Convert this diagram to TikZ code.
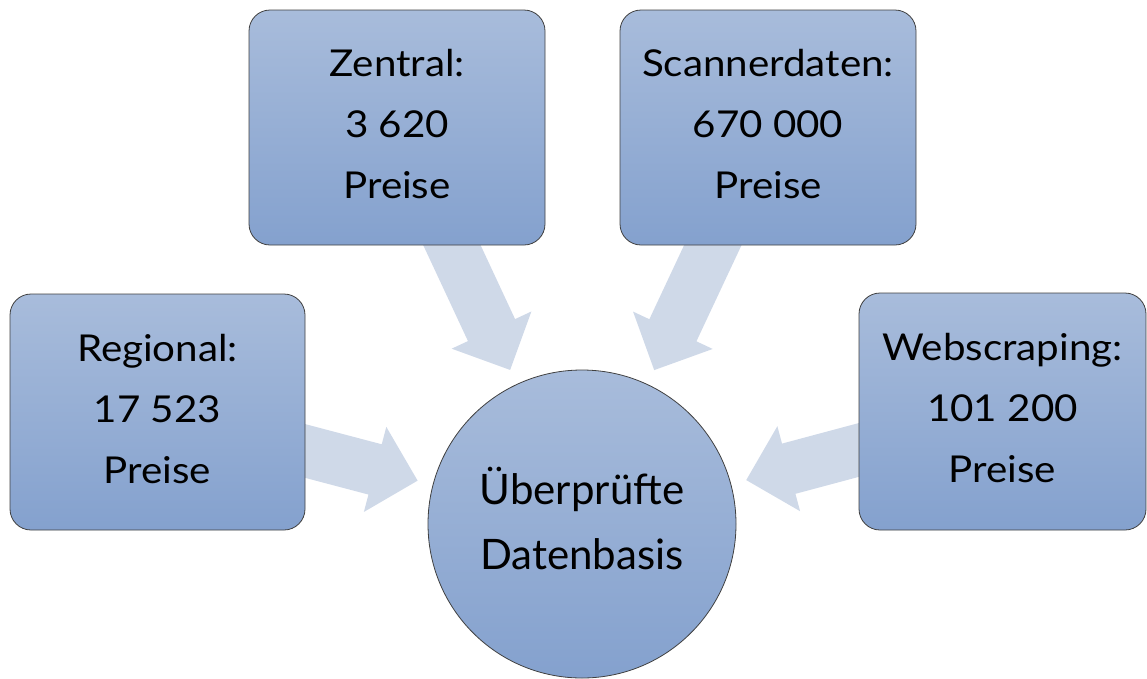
\documentclass[tikz,border=0pt]{standalone}
\usepackage{fontspec}
\setmainfont{Lato}
\newfontfamily\boxfont[FakeStretch=1.09]{Lato}
\usetikzlibrary{calc,backgrounds}
\definecolor{boxtop}{HTML}{A8BCDB}
\definecolor{boxbot}{HTML}{84A1CE}
\definecolor{arrowfill}{HTML}{CFD9E8}
\definecolor{edgecol}{HTML}{404040}
\tikzset{
  srcbox/.style={rounded corners=21pt, draw=edgecol, line width=0.8pt,
    top color=boxtop, bottom color=boxbot, align=center,
    font=\boxfont\fontsize{37}{61}\selectfont, inner sep=0pt, text depth=7pt},
  hub/.style={circle, draw=edgecol, line width=0.8pt,
    top color=boxtop, bottom color=boxbot, minimum size=308pt,
    align=center, font=\fontsize{42}{65}\selectfont, inner sep=0pt, text depth=12pt},
  blockarrow/.style={fill=arrowfill, draw=none}
}
% #1 source node, #2 target node
\newcommand\blockarr[2]{%
  \coordinate (tip) at ($(#2.center)!170pt!(#1.center)$);
  \coordinate (hb) at ($(tip)!44pt!(#1.center)$);
  \fill[blockarrow]
    ($(#1.center)!26pt!90:(tip)$) --
    ($(hb)!26pt!90:(tip)$) --
    ($(hb)!44pt!90:(tip)$) --
    (tip) --
    ($(hb)!44pt!-90:(tip)$) --
    ($(hb)!26pt!-90:(tip)$) --
    ($(#1.center)!26pt!-90:(tip)$) -- cycle;
}
\begin{document}
\begin{tikzpicture}[x=1pt,y=-1pt]
\useasboundingbox (0,0) rectangle (1147,678);
\node[hub] (hubn) at (582,524) {Überprüfte\\Datenbasis};
\node[srcbox, minimum width=295pt, minimum height=236pt] (reg) at (157.5,412) {Regional:\\17 523\\Preise};
\node[srcbox, minimum width=296pt, minimum height=235pt] (zen) at (397,127.5) {Zentral:\\3 620\\Preise};
\node[srcbox, minimum width=296pt, minimum height=235pt] (scan) at (768,127.5) {Scannerdaten:\\670 000\\Preise};
\node[srcbox, minimum width=287pt, minimum height=237pt] (web) at (1002.5,411.5) {Webscraping:\\101 200\\Preise};
\begin{scope}[on background layer]
  \blockarr{reg}{hubn}
  \blockarr{zen}{hubn}
  \blockarr{scan}{hubn}
  \blockarr{web}{hubn}
\end{scope}
\end{tikzpicture}
\end{document}
